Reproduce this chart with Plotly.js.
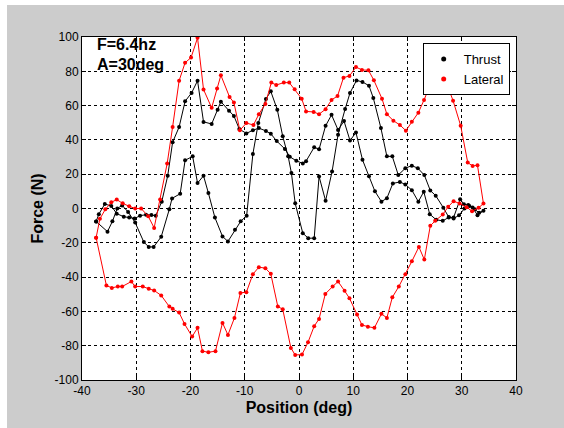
<!DOCTYPE html>
<html>
<head>
<meta charset="utf-8">
<script src="https://cdn.plot.ly/plotly-3.0.1.min.js"></script>
<style>
html,body{margin:0;padding:0;background:#ffffff;width:564px;height:428px;overflow:hidden;}
#chart{position:absolute;left:7px;top:5px;width:557px;height:423px;}
</style>
</head>
<body>
<div id="chart"></div>
<script>
// Thrust (black) – closed loop, positions (deg) and forces (N)
const thrustX = [-37.4,-36.9,-35.8,-34.6,-33.6,-32.3,-31.3,-30.3,-29.3,-28.2,-27.2,-26.4,-25.3,-24.2,-23.3,-22.1,-21.0,-19.8,-18.7,-17.6,-16.1,-15.0,-14.4,-12.9,-12.0,-11.0,-9.7,-8.5,-7.4,-6.1,-5.2,-4.1,-2.6,-1.7,-0.5,0.7,1.3,2.8,3.7,4.9,6.0,7.2,8.3,9.4,10.5,11.7,12.9,14.0,15.2,16.2,17.3,18.6,19.6,20.8,22.0,23.0,24.1,25.3,26.5,27.6,28.5,29.7,30.4,31.2,32.0,32.9,34.0,
  33.2,32.4,31.4,30.5,29.5,28.5,27.6,26.6,25.2,24.2,23.1,21.9,20.8,19.6,18.3,17.2,16.2,15.1,13.7,12.9,11.7,10.6,9.4,8.5,7.2,6.1,4.9,3.7,2.8,1.7,0.7,-0.7,-1.4,-2.0,-3.0,-4.0,-5.2,-6.1,-7.5,-8.5,-9.65,-10.75,-11.8,-13.1,-14.1,-15.5,-16.7,-17.6,-18.7,-19.6,-21.0,-21.9,-23.4,-23.9,-25.4,-26.8,-27.7,-28.6,-30.2,-31.5,-32.6,-33.5,-34.4,-35.3,-37.4];
const thrustY = [-7.6,-3.3,2.6,1.5,-3.0,-4.8,-5.3,-5.8,-4.2,-3.6,-3.8,-4.3,4.0,19.1,38.6,47.5,62.5,67.4,74.5,50.5,49.3,57.6,62.3,57.0,54.0,46.3,43.8,45.6,46.9,45.2,43.6,39.3,34.7,30.2,27.8,26.3,27.6,35.7,34.5,48.2,54.6,45.8,51.0,39.6,44.3,28.4,18.8,10.0,4.0,6.0,14.6,15.5,14.0,10.7,4.0,9.8,-3.3,-6.6,-7.2,-5.2,-5.2,5.4,2.5,2.0,0.6,-3.9,-1.3,
  -2.5,-0.5,1.5,0.0,-4.0,-5.8,-5.0,0.5,7.5,10.5,19.5,23.5,25.0,23.5,19.5,30.4,30.4,46.9,64.4,71.6,73.8,74.7,67.4,58.0,43.0,21.6,4.5,18.7,-17.3,-17.3,-14.4,3.0,20.7,30.4,42.1,57.6,68.3,63.9,49.8,31.8,-4.2,-7.5,-12.4,-19.2,-16.3,-5.3,9.0,19.1,14.8,30.4,28.1,8.6,5.9,-0.4,-16.5,-22.4,-22.4,-19.6,-8.2,-2.0,1.8,0.0,-7.5,-13.5,-7.6];

// Lateral (red) – closed loop
const lateralX = [-37.4,-36.7,-35.7,-34.6,-33.6,-32.5,-31.3,-30.2,-29.1,-27.8,-26.7,-25.6,-24.3,-23.3,-22.1,-21.0,-19.9,-18.7,-17.6,-16.1,-15.1,-14.4,-12.8,-12.0,-10.9,-9.7,-8.4,-7.4,-6.2,-5.1,-4.2,-2.8,-1.8,-0.8,0.5,1.3,2.7,3.7,4.9,6.0,7.1,8.2,9.3,10.5,11.6,12.8,13.8,15.3,16.2,17.4,18.6,19.7,20.8,22.0,23.05,24.1,25.0,26.1,27.3,28.4,29.8,31.1,32.0,32.9,34.0,
  33.1,31.9,30.9,29.6,28.5,27.5,26.5,25.1,24.2,23.1,22.1,20.8,19.6,18.4,17.2,16.2,15.2,13.9,12.7,11.6,10.7,9.3,8.4,7.2,6.2,4.85,3.7,2.8,1.66,0.55,-0.7,-1.5,-3.0,-3.9,-5.2,-6.2,-7.4,-8.5,-9.7,-10.8,-11.9,-13.1,-14.1,-15.4,-16.7,-17.8,-18.7,-19.7,-21.1,-22.1,-23.3,-23.9,-25.4,-26.7,-27.7,-28.8,-30.2,-30.9,-32.6,-33.4,-34.5,-35.5,-37.4];
const lateralY = [-17.0,-6.0,-0.5,3.6,5.2,3.0,1.3,0.0,0.0,-4.5,-11.3,5.2,26.2,47.5,74.5,85.0,88.0,99.5,69.4,58.7,70.0,77.7,65.0,61.8,45.6,49.8,48.7,55.0,61.0,73.4,72.0,73.4,73.4,69.5,64.0,56.6,56.3,55.0,57.9,63.3,65.6,76.3,77.3,82.5,80.8,80.6,74.8,64.0,55.0,51.2,48.7,45.4,50.6,55.9,63.3,71.5,73.4,75.5,72.2,62.9,48.3,26.8,24.8,25.2,2.9,
  0.4,-1.6,0.8,2.9,4.3,1.0,-3.5,-7.2,-10.1,-29.8,-22.4,-30.8,-38.4,-45.5,-51.8,-63.8,-61.4,-69.6,-68.9,-67.9,-61.8,-52.3,-48.0,-42.6,-45.5,-49.8,-64.4,-68.6,-78.0,-85.2,-85.4,-81.3,-58.7,-57.2,-38.1,-34.8,-34.2,-38.3,-48.8,-49.2,-63.8,-73.7,-66.7,-83.2,-83.8,-83.2,-69.6,-74.7,-67.3,-60.7,-58.5,-57.2,-50.7,-47.8,-46.8,-45.5,-45.5,-42.6,-45.5,-45.5,-46.3,-44.9,-17.0];

const seriesNames = ['Thrust', 'Lateral'];
const xTickVals = [-40,-30,-20,-10,0,10,20,30,40];
const yTickVals = [-100,-80,-60,-40,-20,0,20,40,60,80,100];
const notes = ['F=6.4hz', 'A=30deg'];

const FONT = 'Liberation Sans, Arial, sans-serif';

const traces = [
  {x: thrustX, y: thrustY, mode: 'lines+markers', name: seriesNames[0], showlegend: false,
   line: {color: '#000000', width: 1}, marker: {color: '#000000', size: 4}},
  {x: lateralX, y: lateralY, mode: 'lines+markers', name: seriesNames[1], showlegend: false,
   line: {color: '#ff0000', width: 1}, marker: {color: '#ff0000', size: 4}},
  // legend entries (markers only)
  {x: [null], y: [null], mode: 'markers', name: seriesNames[0], marker: {color: '#000000', size: 5}},
  {x: [null], y: [null], mode: 'markers', name: seriesNames[1], marker: {color: '#ff0000', size: 5}}
];

const axisCommon = {
  showgrid: true, gridcolor: '#000000', gridwidth: 1, griddash: '3px,3px',
  zeroline: false, showline: true, mirror: 'ticks', linecolor: '#000000', linewidth: 1,
  ticks: 'inside', ticklen: 4, tickcolor: '#000000',
  tickfont: {family: FONT, size: 12, color: '#000000'}
};

const layout = {
  width: 557, height: 423,
  margin: {l: 75, r: 48, t: 32, b: 48, pad: 0},
  paper_bgcolor: '#cccccc', plot_bgcolor: '#ffffff',
  font: {family: FONT, color: '#000000'},
  xaxis: Object.assign({}, axisCommon, {
    range: [-40, 40], tickvals: xTickVals, ticktext: xTickVals.map(String),
    title: {text: '<b>Position (deg)</b>', font: {family: FONT, size: 16, color: '#000'}, standoff: 4}
  }),
  yaxis: Object.assign({}, axisCommon, {
    range: [-100, 100], tickvals: yTickVals, ticktext: yTickVals.map(String),
    title: {text: '<b>Force (N)</b>', font: {family: FONT, size: 16, color: '#000'}, standoff: 6}
  }),
  legend: {
    x: 0.785, y: 0.982, xanchor: 'left', yanchor: 'top',
    bgcolor: '#ffffff', bordercolor: '#000000', borderwidth: 1,
    font: {family: FONT, size: 13, color: '#000'}, itemwidth: 30, tracegroupgap: 0
  },
  annotations: [
    {text: '<b>' + notes[0] + '</b>', xref: 'paper', yref: 'paper', x: 0.03, y: 0.977,
     xanchor: 'left', yanchor: 'middle', showarrow: false, font: {family: FONT, size: 16, color: '#000'}},
    {text: '<b>' + notes[1] + '</b>', xref: 'paper', yref: 'paper', x: 0.03, y: 0.921,
     xanchor: 'left', yanchor: 'middle', showarrow: false, font: {family: FONT, size: 16, color: '#000'}}
  ]
};

Plotly.newPlot('chart', traces, layout, {displayModeBar: false, staticPlot: true});
</script>
</body>
</html>
